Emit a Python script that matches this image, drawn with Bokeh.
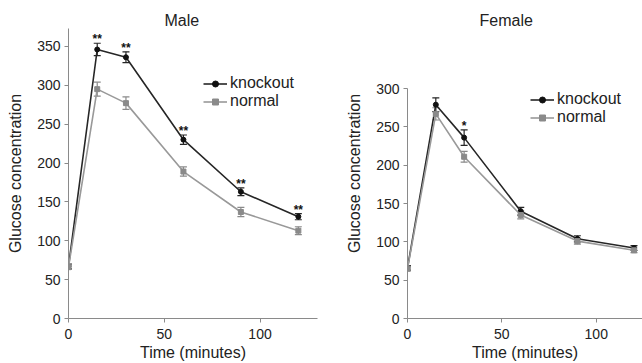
from bokeh.plotting import figure
from bokeh.models import ColumnDataSource, Whisker, TeeHead, Range1d, FixedTicker, Legend
from bokeh.layouts import row
from bokeh.core.properties import value
from bokeh.embed import file_html
from bokeh.resources import INLINE

time = [0, 15, 30, 60, 90, 120]

male_knockout = [67, 346, 336, 230, 163, 131]
male_knockout_err = [3, 8, 7, 6, 5, 4]
male_normal = [66, 295, 277, 189, 137, 113]
male_normal_err = [3, 9, 8, 6, 6, 5]
male_sig = ["", "**", "**", "**", "**", "**"]

female_knockout = [66, 279, 236, 140, 104, 92]
female_knockout_err = [3, 9, 10, 5, 4, 3]
female_normal = [65, 267, 211, 135, 101, 89]
female_normal_err = [3, 8, 7, 5, 4, 3]
female_sig = ["", "", "*", "", "", ""]

FONT = "Liberation Sans"
KO_COLOR = "#262626"
NO_COLOR = "#999999"
AXIS_COLOR = "#8a8a8a"


def make_panel(title, title_offset, ko, ko_err, no, no_err, sig, xmax, ymax,
               yticks, ybound, width, left, right, legend_loc):
    p = figure(width=width, height=363, output_backend="svg", toolbar_location=None,
               x_range=Range1d(0, xmax), y_range=Range1d(0, ymax),
               min_border_left=left, min_border_right=right,
               min_border_top=28, min_border_bottom=44, title=title)
    p.title.text_font = FONT
    p.title.text_font_size = "16px"
    p.title.text_font_style = "normal"
    p.title.text_color = "#222222"
    p.title.align = "left"
    p.title.offset = title_offset
    p.title.standoff = 0
    p.outline_line_color = None
    p.grid.visible = False
    p.background_fill_color = "white"

    for ax in (p.xaxis[0], p.yaxis[0]):
        ax.axis_line_color = AXIS_COLOR
        ax.major_tick_line_color = AXIS_COLOR
        ax.minor_tick_line_color = None
        ax.major_tick_out = 4
        ax.major_tick_in = 0
        ax.major_label_text_font = FONT
        ax.major_label_text_font_size = "14px"
        ax.major_label_text_color = "#222222"
        ax.axis_label_text_font = FONT
        ax.axis_label_text_font_size = "16px"
        ax.axis_label_text_font_style = "normal"
        ax.axis_label_text_color = "#222222"

    p.xaxis.ticker = FixedTicker(ticks=[0, 50, 100])
    p.yaxis.ticker = FixedTicker(ticks=yticks)
    p.yaxis.bounds = ybound
    p.xaxis.axis_label = "Time (minutes)"
    p.yaxis.axis_label = "Glucose concentration"
    p.xaxis.major_label_standoff = 6
    p.xaxis.axis_label_standoff = 2
    p.yaxis.major_label_standoff = 4
    p.yaxis.axis_label_standoff = 10

    ko_src = ColumnDataSource(dict(
        t=time, y=ko, up=[a + b for a, b in zip(ko, ko_err)],
        lo=[a - b for a, b in zip(ko, ko_err)], sig=sig))
    no_src = ColumnDataSource(dict(
        t=time, y=no, up=[a + b for a, b in zip(no, no_err)],
        lo=[a - b for a, b in zip(no, no_err)]))

    r1 = p.line("t", "y", source=ko_src, line_color=KO_COLOR, line_width=1.6)
    r2 = p.scatter("t", "y", source=ko_src, marker="circle", size=5,
                   fill_color="#111111", line_color="#111111")
    p.add_layout(Whisker(source=ko_src, base="t", upper="up", lower="lo",
                         line_color=KO_COLOR, line_width=1.2,
                         upper_head=TeeHead(size=7, line_color=KO_COLOR, line_width=1.2),
                         lower_head=TeeHead(size=7, line_color=KO_COLOR, line_width=1.2)))

    r3 = p.line("t", "y", source=no_src, line_color=NO_COLOR, line_width=1.6)
    r4 = p.scatter("t", "y", source=no_src, marker="square", size=5,
                   fill_color="#8a8a8a", line_color="#8a8a8a")
    p.add_layout(Whisker(source=no_src, base="t", upper="up", lower="lo",
                         line_color="#8a8a8a", line_width=1.2,
                         upper_head=TeeHead(size=7, line_color="#8a8a8a", line_width=1.2),
                         lower_head=TeeHead(size=7, line_color="#8a8a8a", line_width=1.2)))

    p.text("t", "up", text="sig", source=ko_src, text_align="center",
           text_baseline="alphabetic", y_offset=-4, text_font=value(FONT),
           text_font_size="12px", text_font_style="bold", text_color="#111111")

    legend = Legend(items=[("knockout", [r1, r2]), ("normal", [r3, r4])],
                    location=legend_loc, padding=0, margin=0, spacing=-4,
                    glyph_width=24, glyph_height=15, label_height=15,
                    label_standoff=3, background_fill_alpha=0,
                    border_line_alpha=0, label_text_font=FONT,
                    label_text_font_size="16px", label_text_color="#222222")
    p.add_layout(legend)
    return p


p1 = make_panel("Male", 96, male_knockout, male_knockout_err, male_normal,
                male_normal_err, male_sig, 130, 373, [0, 50, 100, 150, 200, 250, 300, 350],
                (0, 373), 330, 68, 13, (135, 208))
p2 = make_panel("Female", 72, female_knockout, female_knockout_err, female_normal,
                female_normal_err, female_sig, 124.5, 378.4, [0, 50, 100, 150, 200, 250, 300],
                (0, 300), 312, 77, 0, (123, 192))

layout = row(p1, p2)
open("out.html", "w").write(file_html(layout, INLINE))
